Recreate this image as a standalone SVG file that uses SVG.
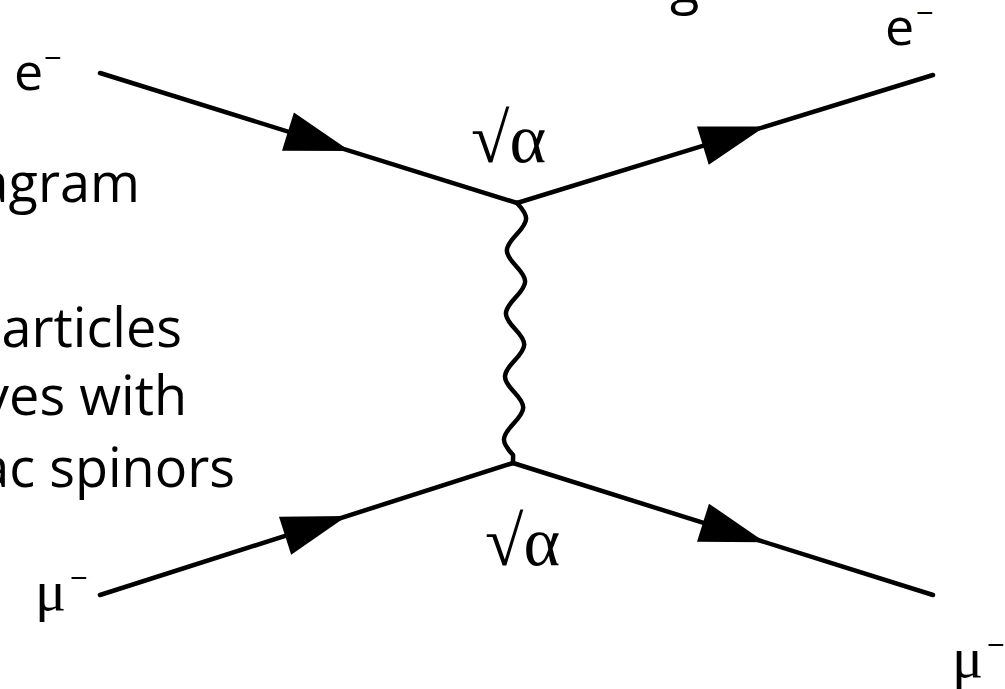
<svg xmlns="http://www.w3.org/2000/svg" width="1005" height="689" viewBox="0 0 1005 689">
<style>
.body{font-family:"Open Sans","Liberation Sans",sans-serif;font-size:54px;fill:#000}
.lbl{font-family:"Open Sans","Liberation Sans",sans-serif;font-size:52px;fill:#000}
.ser{font-family:"Liberation Serif","DejaVu Serif",serif;fill:#000}
.sup{font-family:"Liberation Sans",sans-serif;font-size:30px}
.f{stroke:#000;stroke-width:4.5;fill:none;stroke-linecap:round;stroke-linejoin:round}
</style>
<defs>
<path id="ah" d="M0 0 L-65 -20 L-65 20 Z" fill="#000"/>
</defs>
<rect width="1005" height="689" fill="#fff"/>
<text class="body" x="670" y="3" font-size="100">g</text>
<g id="text-left" class="body" text-anchor="end">
<text x="140" y="202">agram</text>
<text x="182" y="347">particles</text>
<text x="187" y="415">ves with</text>
<text x="235" y="487">ac spinors</text>
</g>
<g id="connectors">
<line class="f" x1="100" y1="73" x2="517" y2="203"/>
<line class="f" x1="517" y1="203" x2="933" y2="75"/>
<line class="f" x1="100" y1="595" x2="513" y2="463"/>
<line class="f" x1="513" y1="463" x2="933" y2="595"/>
<path class="f" d="M517 203 C529.5 216.4 529 221.1 516.5 234.5 C504 247.9 503.5 252.6 516 266 C528.5 279.4 528 284.1 515.5 297.5 C503 310.9 502.6 315.6 515.1 329 C527.6 342.4 527.1 347.1 514.6 360.5 C502.1 373.9 501.6 378.6 514.1 392 C526.6 405.4 526.1 410.1 513.6 423.5 C501.1 436.9 500.6 441.6 513.1 455 L513 463"/>
<use href="#ah" transform="translate(350 151) rotate(17.31)"/>
<use href="#ah" transform="translate(765 126.6) rotate(-17.1)"/>
<use href="#ah" transform="translate(347 516) rotate(-17.72)"/>
<use href="#ah" transform="translate(765 542.2) rotate(17.45)"/>
</g>
<g id="e-in"><text class="lbl" x="14" y="90">e<tspan class="sup" x="44" y="68">−</tspan></text></g>
<g id="e-out"><text class="lbl" x="885" y="45">e<tspan class="sup" x="916" y="23">−</tspan></text></g>
<g id="mu-in"><text class="ser" font-size="58" x="35" y="610">μ<tspan class="sup" x="70" y="588">−</tspan></text></g>
<g id="mu-out"><text class="ser" font-size="58" x="952" y="677">μ<tspan class="sup" x="987" y="655">−</tspan></text></g>
<g id="vertex-top"><text class="ser" font-size="70" x="471" y="162">√α</text></g>
<g id="vertex-bottom"><text class="ser" font-size="70" x="485" y="565">√α</text></g>
</svg>
